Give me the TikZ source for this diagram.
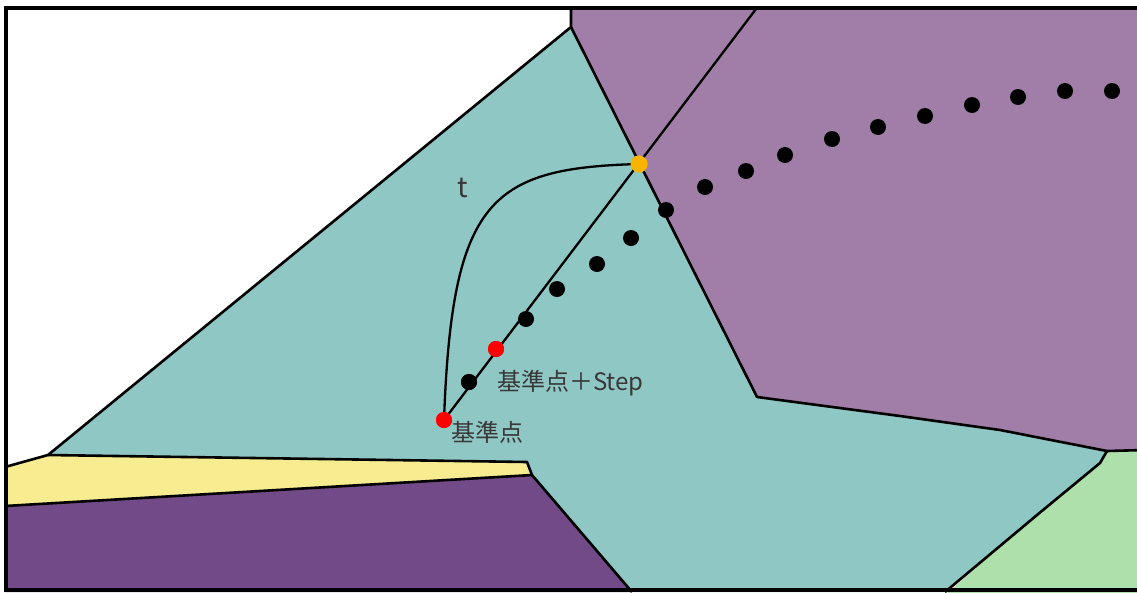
\documentclass[tikz,border=0pt]{standalone}
\usepackage{fontspec}
\newfontfamily\jpfont{Noto Sans CJK JP}
\definecolor{cellteal}{HTML}{8FC7C4}
\definecolor{cellmauve}{HTML}{A07EA8}
\definecolor{cellplum}{HTML}{714A87}
\definecolor{cellyellow}{HTML}{F8EC91}
\definecolor{cellgreen}{HTML}{AEE0AB}
\definecolor{hitorange}{HTML}{F7B500}
\definecolor{labelgray}{HTML}{383838}
\tikzset{
  cell/.style={draw=black, line width=2.6pt, line join=round},
  pathline/.style={draw=black, line width=2.3pt},
  sample/.style={circle, fill=black, inner sep=0pt, minimum size=16pt},
  basept/.style={circle, fill=red, inner sep=0pt, minimum size=16pt},
  hitpt/.style={circle, fill=hitorange, inner sep=0pt, minimum size=17pt},
  lbl/.style={text=labelgray, inner sep=0pt, font=\jpfont\fontsize{24}{28}\selectfont},
}
\begin{document}
\begin{tikzpicture}[x=1pt, y=-1pt]
\useasboundingbox (0,0) rectangle (1137,592);
\fill[white] (0,0) rectangle (1137,592);

% Voronoi-like cells
\fill[cellmauve] (571,8) -- (1145,8) -- (1145,450) -- (1107,451)
  -- (1000,430) -- (900,416) -- (757,397) -- (571,27) -- cycle;
\fill[cellteal] (48,455) -- (571,27) -- (757,397) -- (900,416) -- (1000,430)
  -- (1107,451) -- (1100,463) -- (1037,515) -- (945,592) -- (632,592)
  -- (532,475) -- (527,462) -- cycle;
\fill[cellyellow] (5,467) -- (48,455) -- (527,462) -- (532,475) -- (5,506) -- cycle;
\fill[cellplum] (5,506) -- (532,475) -- (632,592) -- (5,592) -- cycle;
\fill[cellgreen] (1107,451) -- (1145,450) -- (1145,595) -- (945,595)
  -- (1037,515) -- (1100,463) -- cycle;

% cell borders
\draw[cell] (5,467) -- (48,455) -- (571,27) -- (571,8);
\draw[cell] (571,27) -- (757,397) -- (900,416) -- (1000,430) -- (1107,451) -- (1145,450);
\draw[cell] (1107,451) -- (1100,463) -- (1037,515) -- (945,592);
\draw[cell] (48,455) -- (527,462) -- (532,475) -- (632,592);
\draw[cell] (5,506) -- (532,475);

% points
\node[basept] (base) at (444,420) {};
\node[sample] (s1) at (469,382) {};
\node[basept] (step) at (496,349) {};
\node[hitpt] (hit) at (639,164) {};
\coordinate (top) at (756,9);

% ray through the base point and the curve t
\draw[pathline] (base.center) -- (top);
\draw[pathline] (base.center) .. controls (452,200) and (490,168) .. (hit.center);
\node[basept] at (base) {};
\node[sample] at (s1) {};
\node[basept] at (step) {};
\node[hitpt] at (hit) {};

% sample points beyond the step
\foreach \px/\py [count=\i] in {526/319, 557/289, 597/264, 631/238, 666/210,
  705/187, 746/171, 785/155, 832/139, 878/127, 925/116, 972/105, 1018/97,
  1065/91, 1112/91}
  \node[sample] (d\i) at (\px,\py) {};

% labels
\node[lbl, anchor=west] (lbase) at (451,432) {基準点};
\node[lbl, anchor=west] (lstep) at (497,383) {基準点＋Step};
\node[lbl, font=\jpfont\fontsize{28}{32}\selectfont] (lt) at (463,188) {t};

% frame
\draw[line width=4pt] (5.5,8) rectangle (1150,590);
\end{tikzpicture}
\end{document}
